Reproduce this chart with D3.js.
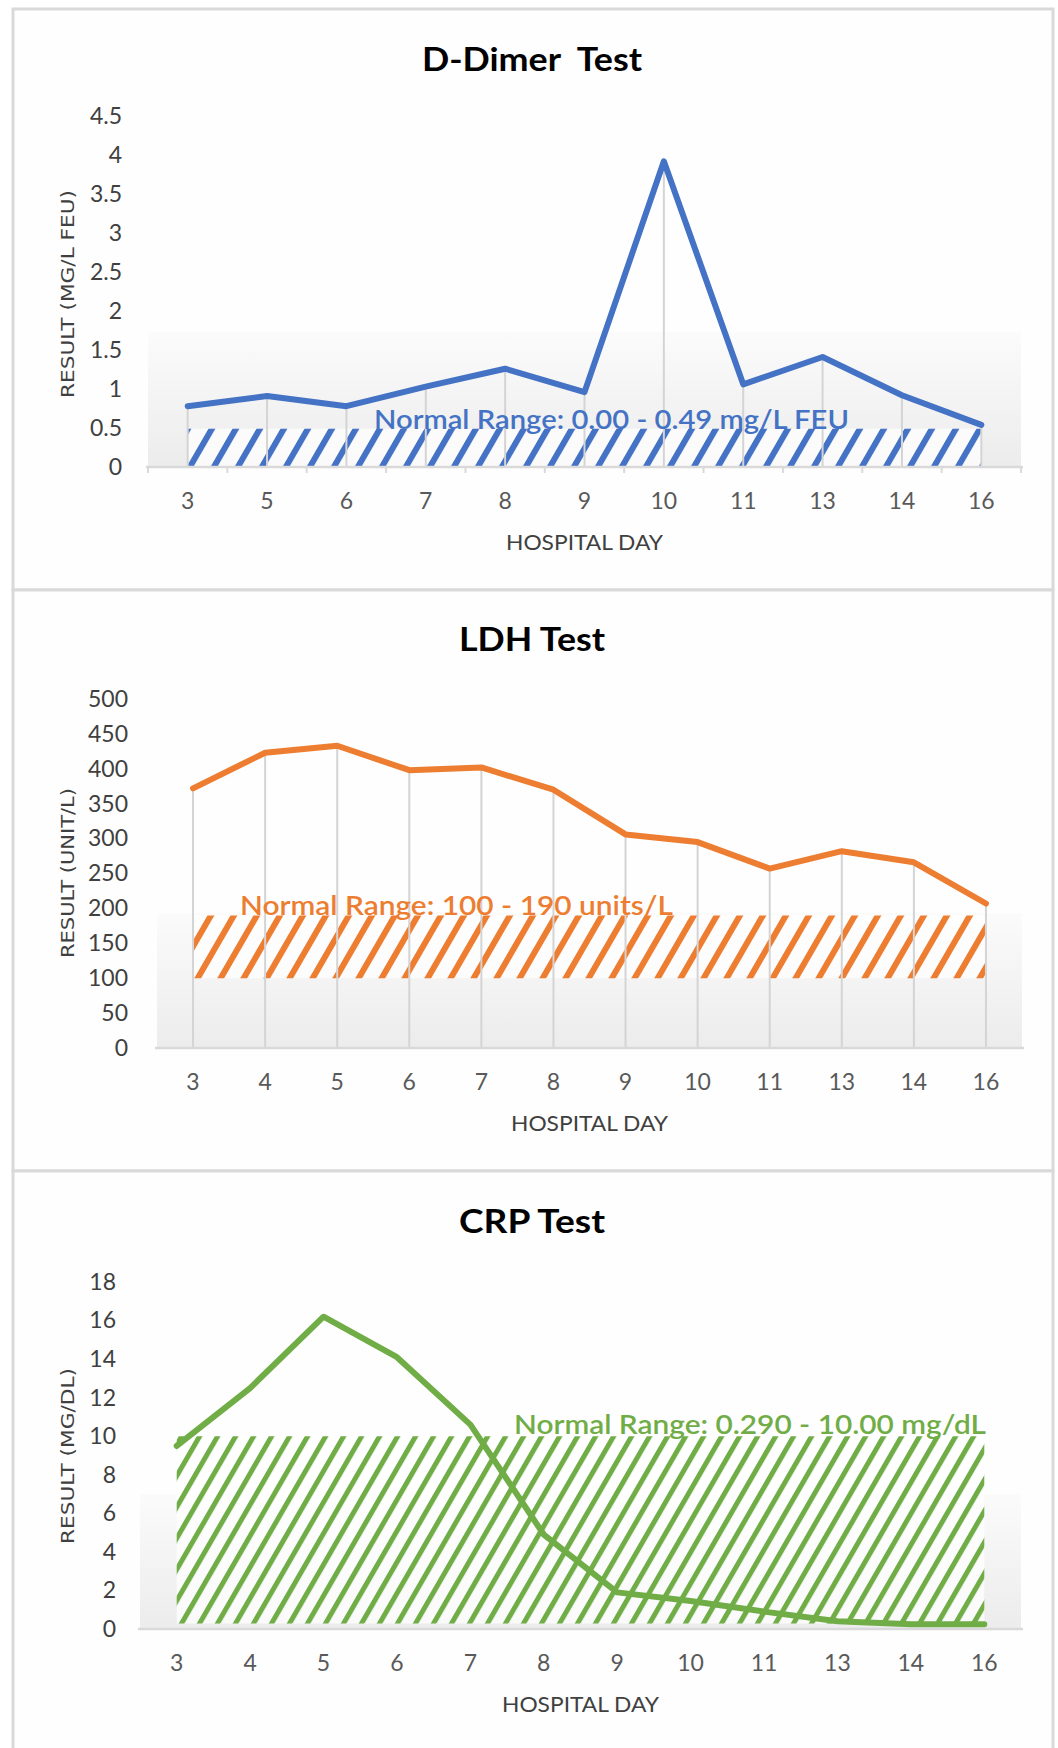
<!DOCTYPE html>
<html>
<head>
<meta charset="utf-8">
<script src="https://cdn.jsdelivr.net/npm/d3@7"></script>
<style>
body { margin: 0; background: #ffffff; }
text { font-family: Lato, "Open Sans", sans-serif; white-space: pre; }
</style>
</head>
<body>
<div id="chart"></div>
<script>
// D-Dimer test
const ddimerDays = ["3", "5", "6", "7", "8", "9", "10", "11", "13", "14", "16"];
const ddimerResults = [0.78, 0.91, 0.78, 1.03, 1.26, 0.96, 3.92, 1.06, 1.41, 0.92, 0.54];
const ddimerTicks = [0, 0.5, 1, 1.5, 2, 2.5, 3, 3.5, 4, 4.5];
const ddimerNormal = [0, 0.49];

// LDH test
const ldhDays = ["3", "4", "5", "6", "7", "8", "9", "10", "11", "13", "14", "16"];
const ldhResults = [372, 423, 433, 398, 402, 370, 306, 295, 257, 282, 266, 207];
const ldhTicks = [0, 50, 100, 150, 200, 250, 300, 350, 400, 450, 500];
const ldhNormal = [100, 190];

// CRP test
const crpDays = ["3", "4", "5", "6", "7", "8", "9", "10", "11", "13", "14", "16"];
const crpResults = [9.5, 12.5, 16.2, 14.1, 10.6, 4.9, 1.9, 1.45, 0.9, 0.4, 0.25, 0.25];
const crpTicks = [0, 2, 4, 6, 8, 10, 12, 14, 16, 18];
const crpNormal = [0.29, 10];

const svg = d3.select("#chart")
  .append("svg")
    .attr("width", 1058)
    .attr("height", 1748);

const defs = svg.append("defs");

// plot area shading, light grey at the bottom
const grad = defs.append("linearGradient")
    .attr("id", "floor")
    .attr("x1", 0).attr("y1", 0).attr("x2", 0).attr("y2", 1);
grad.append("stop").attr("offset", "0%").attr("stop-color", "#fbfbfb");
grad.append("stop").attr("offset", "100%").attr("stop-color", "#ececec");

// diagonal hatch for the normal ranges
function makeHatch(id, color, period, thick) {
  const w = period * Math.cos(Math.PI / 6);
  const p = defs.append("pattern")
      .attr("id", id)
      .attr("patternUnits", "userSpaceOnUse")
      .attr("width", w)
      .attr("height", w)
      .attr("patternTransform", "rotate(30)");
  p.append("rect").attr("width", w).attr("height", w).attr("fill", "#ffffff").attr("fill-opacity", 0.75);
  p.append("rect").attr("width", thick).attr("height", w).attr("fill", color);
}
makeHatch("hatchBlue", "#4472c4", 24, 6);
makeHatch("hatchOrange", "#ed7d31", 23, 6);
makeHatch("hatchGreen", "#70ad47", 18, 5);

// Repeatable panel creation, one lab test per panel
function createLabPanel(opt) {
  const g = svg.append("g");

  g.append("rect")
      .attr("x", 13)
      .attr("y", opt.top)
      .attr("width", 1040)
      .attr("height", opt.height)
      .attr("fill", "#fefefe")
      .attr("stroke", "#d9d9d9")
      .attr("stroke-width", 3);

  const x = d3.scaleBand()
      .domain(opt.days)
      .range([opt.left, opt.right]);
  const cx = function(d) { return x(d) + x.bandwidth() / 2; };

  const y = d3.scaleLinear()
      .domain([0, d3.max(opt.ticks)])
      .range([opt.base, opt.yTop]);

  const data = opt.days.map(function(d, i) { return {day: d, value: opt.results[i]}; });

  // floor shading
  g.append("rect")
      .attr("x", opt.left)
      .attr("y", opt.base - 135)
      .attr("width", opt.right - opt.left)
      .attr("height", 135)
      .attr("fill", "url(#floor)");

  // normal range band
  const band = d3.area()
      .x(function(d) { return cx(d.day); })
      .y0(y(opt.normal[0]))
      .y1(y(opt.normal[1]));
  g.append("path")
      .datum(data)
      .attr("d", band)
      .attr("fill", "url(#" + opt.hatch + ")");

  // drop lines
  if (opt.dropLines) {
    g.selectAll("droplines")
      .data(data)
      .enter()
      .append("line")
        .attr("x1", function(d) { return cx(d.day); })
        .attr("x2", function(d) { return cx(d.day); })
        .attr("y1", function(d) { return y(d.value); })
        .attr("y2", y(0))
        .attr("stroke", "#d4d4d4")
        .attr("stroke-width", 2);
  }

  // x axis line
  g.append("line")
      .attr("x1", opt.left - 2)
      .attr("x2", opt.right + 2)
      .attr("y1", opt.base)
      .attr("y2", opt.base)
      .attr("stroke", "#d9d9d9")
      .attr("stroke-width", 2.5);

  if (opt.tickMarks) {
    const edges = opt.days.map(function(d) { return x(d); }).concat([opt.right]);
    g.selectAll("tickmarks")
      .data(edges)
      .enter()
      .append("line")
        .attr("x1", function(d) { return d; })
        .attr("x2", function(d) { return d; })
        .attr("y1", opt.base)
        .attr("y2", opt.base + 6)
        .attr("stroke", "#d9d9d9")
        .attr("stroke-width", 2);
  }

  // x labels
  const xa = g.append("g")
      .attr("transform", "translate(0," + (opt.base + 34) + ")")
      .call(d3.axisBottom(x).tickSize(0).tickPadding(0));
  xa.select(".domain").remove();
  xa.selectAll("text")
      .attr("y", 0)
      .attr("dy", "0.35em")
      .style("font-family", "Lato, 'Open Sans', sans-serif")
      .style("font-size", "23px")
      .attr("fill", "#595959");

  // y labels
  const ya = g.append("g")
      .attr("transform", "translate(" + opt.labelRight + ",0)")
      .call(d3.axisLeft(y).tickValues(opt.ticks).tickFormat(function(d) { return String(d); }).tickSize(0).tickPadding(0));
  ya.select(".domain").remove();
  ya.selectAll("text")
      .style("font-family", "Lato, 'Open Sans', sans-serif")
      .style("font-size", "23px")
      .attr("fill", "#404040");

  // series line
  const line = d3.line()
      .x(function(d) { return cx(d.day); })
      .y(function(d) { return y(d.value); });
  g.append("path")
      .datum(data)
      .attr("d", line)
      .attr("fill", "none")
      .attr("stroke", opt.color)
      .attr("stroke-width", 6)
      .attr("stroke-linejoin", "round")
      .attr("stroke-linecap", "round");

  // normal range note
  g.append("text")
      .attr("x", opt.noteX)
      .attr("y", opt.noteY)
      .attr("textLength", opt.noteW)
      .attr("lengthAdjust", "spacingAndGlyphs")
      .style("font-size", "26px")
      .style("font-weight", 600)
      .attr("fill", opt.color)
      .text(opt.note);

  // title
  g.append("text")
      .attr("x", 532)
      .attr("y", opt.top + opt.titleDy)
      .attr("text-anchor", "middle")
      .attr("textLength", opt.titleW)
      .attr("lengthAdjust", "spacingAndGlyphs")
      .style("font-size", "33px")
      .style("font-weight", "bold")
      .attr("fill", "#000000")
      .text(opt.title);

  // axis titles
  g.append("text")
      .attr("x", (opt.left + opt.right) / 2)
      .attr("y", opt.base + 83)
      .attr("text-anchor", "middle")
      .attr("textLength", 157)
      .attr("lengthAdjust", "spacingAndGlyphs")
      .style("font-size", "22px")
      .attr("fill", "#404040")
      .text("HOSPITAL DAY");

  g.append("text")
      .attr("transform", "translate(68," + opt.yLabelMid + ") rotate(-90)")
      .attr("text-anchor", "middle")
      .attr("dy", "0.35em")
      .attr("textLength", opt.yLabelW)
      .attr("lengthAdjust", "spacingAndGlyphs")
      .style("font-family", "'DejaVu Sans', sans-serif")
      .style("font-size", "18px")
      .attr("fill", "#404040")
      .text(opt.yLabel);
}

createLabPanel({
  top: 9, height: 581, title: "D-Dimer  Test", titleDy: 62, titleW: 220,
  days: ddimerDays, results: ddimerResults, ticks: ddimerTicks, normal: ddimerNormal,
  left: 148, right: 1021, base: 467, yTop: 116, labelRight: 122,
  color: "#4472c4", hatch: "hatchBlue", dropLines: true, tickMarks: true,
  note: "Normal Range: 0.00 - 0.49 mg/L FEU", noteX: 374, noteY: 429, noteW: 475,
  yLabel: "RESULT (MG/L FEU)", yLabelMid: 294, yLabelW: 208
});

createLabPanel({
  top: 590, height: 581, title: "LDH Test", titleDy: 61, titleW: 146,
  days: ldhDays, results: ldhResults, ticks: ldhTicks, normal: ldhNormal,
  left: 157, right: 1022, base: 1048, yTop: 699, labelRight: 128,
  color: "#ed7d31", hatch: "hatchOrange", dropLines: true, tickMarks: false,
  note: "Normal Range: 100 - 190 units/L", noteX: 240, noteY: 915, noteW: 433,
  yLabel: "RESULT (UNIT/L)", yLabelMid: 873, yLabelW: 170
});

createLabPanel({
  top: 1171, height: 600, title: "CRP Test", titleDy: 62, titleW: 146,
  days: crpDays, results: crpResults, ticks: crpTicks, normal: crpNormal,
  left: 140, right: 1021, base: 1629, yTop: 1282, labelRight: 116,
  color: "#70ad47", hatch: "hatchGreen", dropLines: false, tickMarks: false,
  note: "Normal Range: 0.290 - 10.00 mg/dL", noteX: 514, noteY: 1434, noteW: 472,
  yLabel: "RESULT (MG/DL)", yLabelMid: 1456, yLabelW: 176
});
</script>
</body>
</html>
